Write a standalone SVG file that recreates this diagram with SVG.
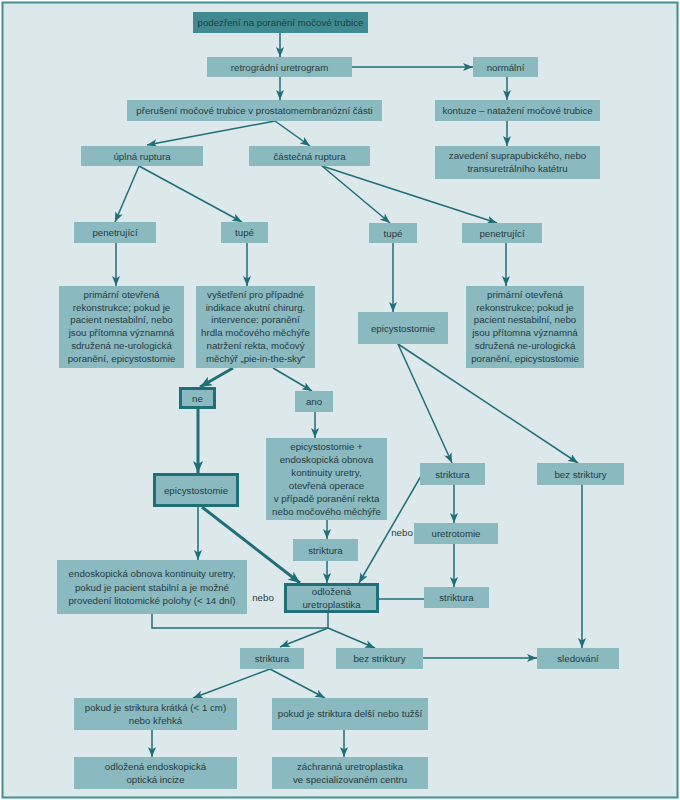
<svg xmlns="http://www.w3.org/2000/svg" width="680" height="800" viewBox="0 0 680 800">
<style>
.bg{fill:#dce8ea;stroke:#3f8f94;stroke-width:2}
.b{fill:#8bb9c0}
.top{fill:#3f8b91}
.thk{fill:#8bb9c0;stroke:#1f6f78;stroke-width:3}
text{font-family:"Liberation Sans",Arial,sans-serif;font-size:9.7px;fill:#243b40;text-anchor:middle}
.c line,.c path{stroke:#1f6f78;stroke-width:1.5;fill:none}
.c .t{stroke-width:3}
</style>
<defs>
<marker id="a" markerUnits="userSpaceOnUse" markerWidth="10" markerHeight="8" refX="10" refY="4" orient="auto">
<path d="M0,0 L10,4 L0,8 L2.5,4 z" fill="#1f6f78"/>
</marker>
<marker id="at" markerUnits="userSpaceOnUse" markerWidth="12" markerHeight="10" refX="12" refY="5" orient="auto">
<path d="M0,0 L12,5 L0,10 L3,5 z" fill="#1f6f78"/>
</marker>
</defs>
<rect class="bg" x="2.5" y="2.5" width="675" height="795"/>

<g class="c">
<line x1="280" y1="33" x2="280" y2="57" marker-end="url(#a)"/>
<line x1="352" y1="67" x2="473" y2="67" marker-end="url(#a)"/>
<line x1="280" y1="77" x2="280" y2="100" marker-end="url(#a)"/>
<line x1="507" y1="77" x2="507" y2="100" marker-end="url(#a)"/>
<line x1="507" y1="121" x2="507" y2="146" marker-end="url(#a)"/>
<line x1="275" y1="121" x2="147" y2="145" marker-end="url(#a)"/>
<line x1="275" y1="121" x2="310" y2="146" marker-end="url(#a)"/>
<line x1="139" y1="166" x2="115" y2="222" marker-end="url(#a)"/>
<line x1="139" y1="166" x2="242" y2="222" marker-end="url(#a)"/>
<line x1="322" y1="166" x2="390" y2="223" marker-end="url(#a)"/>
<line x1="322" y1="166" x2="497" y2="223" marker-end="url(#a)"/>
<line x1="116" y1="243" x2="116" y2="286" marker-end="url(#a)"/>
<line x1="247" y1="243" x2="247" y2="286" marker-end="url(#a)"/>
<line x1="393" y1="243" x2="393" y2="312" marker-end="url(#a)"/>
<line x1="506" y1="243" x2="506" y2="286" marker-end="url(#a)"/>
<line class="t" x1="233" y1="368" x2="200" y2="387" marker-end="url(#at)"/>
<line x1="273" y1="368" x2="312" y2="391" marker-end="url(#a)"/>
<line class="t" x1="198" y1="408" x2="198" y2="473" marker-end="url(#at)"/>
<line x1="315" y1="412" x2="315" y2="438" marker-end="url(#a)"/>
<line x1="398" y1="344" x2="452" y2="463" marker-end="url(#a)"/>
<line x1="398" y1="344" x2="578" y2="463" marker-end="url(#a)"/>
<line x1="327" y1="520" x2="327" y2="539" marker-end="url(#a)"/>
<line x1="327" y1="561" x2="327" y2="583" marker-end="url(#a)"/>
<line class="t" x1="202" y1="507" x2="300" y2="583" marker-end="url(#at)"/>
<line x1="198" y1="507" x2="198" y2="560" marker-end="url(#a)"/>
<line x1="421" y1="476" x2="359" y2="583" marker-end="url(#a)"/>
<line x1="454" y1="485" x2="454" y2="523" marker-end="url(#a)"/>
<line x1="454" y1="544" x2="454" y2="587" marker-end="url(#a)"/>
<line x1="379" y1="599" x2="424" y2="599"/>
<line x1="582" y1="485" x2="582" y2="648" marker-end="url(#a)"/>
<path d="M152,614 V628 H328 M328,613 V628"/>
<line x1="328" y1="628" x2="280" y2="647" marker-end="url(#a)"/>
<line x1="328" y1="628" x2="375" y2="648" marker-end="url(#a)"/>
<line x1="423" y1="658" x2="537" y2="658" marker-end="url(#a)"/>
<line x1="270" y1="669" x2="193" y2="698" marker-end="url(#a)"/>
<line x1="270" y1="669" x2="325" y2="698" marker-end="url(#a)"/>
<line x1="152" y1="730" x2="152" y2="757" marker-end="url(#a)"/>
<line x1="344" y1="730" x2="344" y2="757" marker-end="url(#a)"/>
</g>
<text x="402" y="536">nebo</text>
<text x="263" y="601">nebo</text>

<g id="n1"><rect class="top" x="193" y="12" width="175" height="21"/><text x="280.5" y="26">podezření na poranění močové trubice</text></g>
<g id="n2"><rect class="b" x="207" y="57" width="145" height="20"/><text x="279.5" y="70.5">retrográdní uretrogram</text></g>
<g id="n3"><rect class="b" x="473" y="57" width="65" height="20"/><text x="505.5" y="70.5">normální</text></g>
<g id="n4"><rect class="b" x="127" y="100" width="255" height="21"/><text x="254.5" y="114">přerušení  močové trubice v prostatomembranózní části</text></g>
<g id="n5"><rect class="b" x="435" y="100" width="165" height="21"/><text x="517.5" y="114">kontuze – natažení močové trubice</text></g>
<g id="n6"><rect class="b" x="435" y="146" width="165" height="33"/><text x="517.5" y="159">zavedení suprapubického, nebo</text><text x="517.5" y="172">transuretrálního katétru</text></g>
<g id="n7"><rect class="b" x="81" y="146" width="122" height="20"/><text x="142" y="159.5">úplná ruptura</text></g>
<g id="n8"><rect class="b" x="249" y="146" width="121" height="20"/><text x="309.5" y="159.5">částečná ruptura</text></g>
<g id="n9"><rect class="b" x="74" y="222" width="82" height="21"/><text x="115" y="236">penetrující</text></g>
<g id="n10"><rect class="b" x="221" y="222" width="47" height="21"/><text x="244.5" y="236">tupé</text></g>
<g id="n11"><rect class="b" x="369" y="223" width="48" height="20"/><text x="393" y="236.5">tupé</text></g>
<g id="n12"><rect class="b" x="462" y="223" width="80" height="20"/><text x="502" y="236.5">penetrující</text></g>
<g id="n13"><rect class="b" x="59" y="286" width="125" height="82"/>
<text x="121.5" y="298">primární otevřená</text><text x="121.5" y="310.7">rekonstrukce; pokud je</text><text x="121.5" y="323.4">pacient nestabilní, nebo</text><text x="121.5" y="336.1">jsou přítomna významná</text><text x="121.5" y="348.8">sdružená ne-urologická</text><text x="121.5" y="361.5">poranění, epicystostomie</text></g>
<g id="n14"><rect class="b" x="196" y="286" width="119" height="82"/>
<text x="255.5" y="298">vyšetření pro případné</text><text x="255.5" y="310.7">indikace akutní chirurg.</text><text x="255.5" y="323.4">intervence: poranění</text><text x="255.5" y="336.1">hrdla močového měchýře</text><text x="255.5" y="348.8">natržení rekta, močový</text><text x="255.5" y="361.5">měchýř „pie-in-the-sky“</text></g>
<g id="n15"><rect class="b" x="358" y="312" width="90" height="32"/><text x="403" y="331.5">epicystostomie</text></g>
<g id="n16"><rect class="b" x="466" y="286" width="118" height="82"/>
<text x="525" y="298">primární otevřená</text><text x="525" y="310.7">rekonstrukce; pokud je</text><text x="525" y="323.4">pacient nestabilní, nebo</text><text x="525" y="336.1">jsou přítomna významná</text><text x="525" y="348.8">sdružená ne-urologická</text><text x="525" y="361.5">poranění, epicystostomie</text></g>
<g id="n17"><rect class="thk" x="180.5" y="388.5" width="34" height="19"/><text x="197.5" y="401.5">ne</text></g>
<g id="n18"><rect class="b" x="295" y="391" width="38" height="21"/><text x="314" y="405">ano</text></g>
<g id="n19"><rect class="thk" x="154.5" y="474.5" width="83" height="31"/><text x="196" y="493.5">epicystostomie</text></g>
<g id="n20"><rect class="b" x="266" y="438" width="121" height="82"/>
<text x="326.5" y="449.5">epicystostomie +</text><text x="326.5" y="462.5">endoskopická obnova</text><text x="326.5" y="475.5">kontinuity uretry,</text><text x="326.5" y="488.5">otevřená operace</text><text x="326.5" y="501.5">v případě poranění rekta</text><text x="326.5" y="514.5">nebo močového měchýře</text></g>
<g id="n21"><rect class="b" x="420" y="463" width="65" height="22"/><text x="452.5" y="477.5">striktura</text></g>
<g id="n22"><rect class="b" x="537" y="463" width="87" height="22"/><text x="580.5" y="477.5">bez striktury</text></g>
<g id="n23"><rect class="b" x="414" y="523" width="84" height="21"/><text x="456" y="537">uretrotomie</text></g>
<g id="n24"><rect class="b" x="293" y="539" width="65" height="22"/><text x="325.5" y="553.5">striktura</text></g>
<g id="n25"><rect class="b" x="57" y="560" width="190" height="54"/>
<text x="152" y="577">endoskopická obnova kontinuity uretry,</text><text x="152" y="590.5">pokud je pacient stabilní a je možné</text><text x="152" y="604">provedení litotomické polohy (&lt; 14 dní)</text></g>
<g id="n26"><rect class="thk" x="285.5" y="584.5" width="92" height="27"/><text x="331.5" y="595">odložená</text><text x="331.5" y="608">uretroplastika</text></g>
<g id="n27"><rect class="b" x="424" y="587" width="65" height="21"/><text x="456.5" y="601">striktura</text></g>
<g id="n28"><rect class="b" x="240" y="648" width="64" height="21"/><text x="272" y="662">striktura</text></g>
<g id="n29"><rect class="b" x="336" y="648" width="87" height="21"/><text x="379.5" y="662">bez striktury</text></g>
<g id="n30"><rect class="b" x="537" y="648" width="82" height="21"/><text x="578" y="662">sledování</text></g>
<g id="n31"><rect class="b" x="74" y="698" width="163" height="32"/><text x="155.5" y="711">pokud je striktura krátká (&lt; 1 cm)</text><text x="155.5" y="724">nebo křehká</text></g>
<g id="n32"><rect class="b" x="272" y="698" width="156" height="32"/><text x="350" y="717">pokud je striktura delší nebo tužší</text></g>
<g id="n33"><rect class="b" x="74" y="757" width="163" height="32"/><text x="155.5" y="770">odložená endoskopická</text><text x="155.5" y="783">optická incize</text></g>
<g id="n34"><rect class="b" x="272" y="757" width="156" height="32"/><text x="350" y="770">záchranná uretroplastika</text><text x="350" y="783">ve specializovaném centru</text></g>
</svg>
